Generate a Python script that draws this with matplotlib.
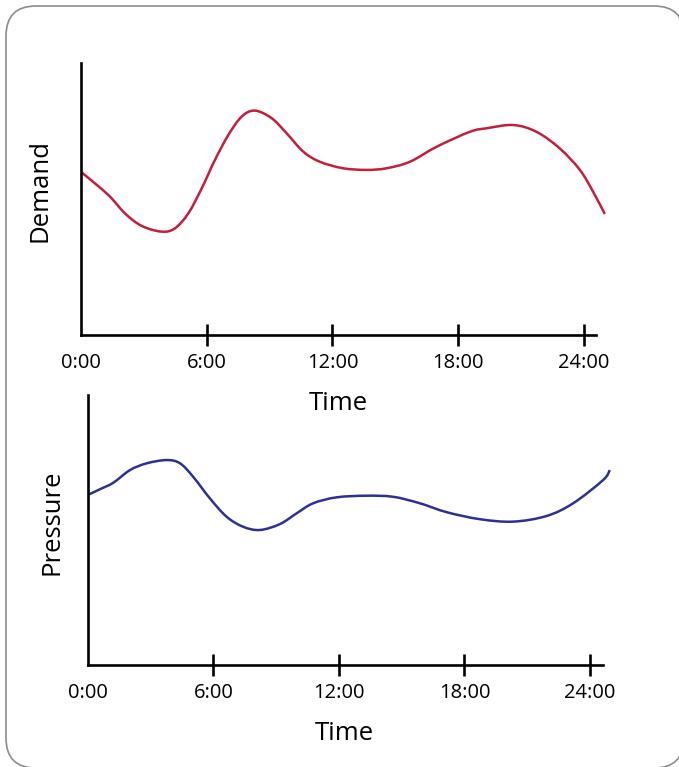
import numpy as np
import matplotlib
matplotlib.use('Agg')
import matplotlib.pyplot as plt
from matplotlib.patches import FancyBboxPatch, PathPatch
from matplotlib.path import Path

plt.rcParams['font.family'] = ['Open Sans', 'DejaVu Sans']

# valores (horas, escala arbitraria 0-100)
demand_hours = [0.0, 1.30, 2.10, 2.90, 3.85, 4.48, 5.12, 5.76, 6.39, 7.03, 7.67, 8.30,
                9.10, 9.81, 10.61, 11.40, 12.51, 13.63, 14.58, 15.70, 16.97, 18.56,
                19.36, 20.63, 21.74, 22.85, 23.81, 24.44, 25.0]
demand = [60.0, 51.5, 44.7, 40.1, 38.0, 39.2, 44.7, 53.9, 64.3, 73.5, 80.3, 82.5,
          79.7, 74.2, 67.4, 63.7, 61.3, 60.7, 61.3, 63.7, 69.2, 74.7,
          76.0, 77.2, 74.7, 68.6, 60.7, 52.7, 44.5]

pressure_hours = [0.0, 0.57, 1.21, 2.01, 2.81, 3.76, 4.40, 5.03, 5.83, 6.63, 7.42, 8.22,
                  9.18, 9.98, 10.77, 11.89, 13.32, 14.59, 15.87, 17.15, 18.74, 20.33,
                  21.93, 23.20, 24.63, 24.95]
pressure = [63.0, 65.1, 67.5, 72.2, 74.7, 75.9, 74.7, 69.7, 61.7, 54.9, 51.2, 50.0,
            52.2, 56.2, 59.9, 62.1, 62.7, 62.3, 59.9, 56.6, 54.0, 53.1,
            55.2, 59.9, 68.5, 72.2]

tick_hours = [0, 6, 12, 18, 24]
tick_labels = ['0:00', '6:00', '12:00', '18:00', '24:00']

fig = plt.figure(figsize=(6.79, 7.67), dpi=100)

# moldura arredondada
bg = fig.add_axes([0, 0, 1, 1], zorder=0)
bg.set_xlim(0, 679)
bg.set_ylim(767, 0)
bg.axis('off')
bg.add_patch(FancyBboxPatch((6, 6), 678, 762, boxstyle='round,pad=0,rounding_size=30',
                            fc='white', ec='#8c8c8c', lw=1.2))


def curva_suave(x, y):
    # caminho bezier passando pelos pontos lidos (catmull-rom)
    p = np.column_stack([x, y])
    pts = np.vstack([p[0], p, p[-1]])
    verts = [p[0]]
    codes = [Path.MOVETO]
    for i in range(1, len(pts) - 2):
        c1 = pts[i] + (pts[i + 1] - pts[i - 1]) / 6
        c2 = pts[i + 1] - (pts[i + 2] - pts[i]) / 6
        verts += [c1, c2, pts[i + 1]]
        codes += [Path.CURVE4] * 3
    return Path(verts, codes)


def painel(rect, x, y, cor, ylabel, ylab_xy, xlab_xy, xend):
    ax = fig.add_axes(rect, zorder=1)
    ax.patch.set_visible(False)
    ax.add_patch(PathPatch(curva_suave(x, y), fc='none', ec=cor, lw=1.8, capstyle='butt'))
    ax.set_xlim(0, 25.2)
    ax.set_ylim(0, 100)
    for s in ['top', 'right']:
        ax.spines[s].set_visible(False)
    for s in ['left', 'bottom']:
        ax.spines[s].set_linewidth(1.9)
    ax.spines['bottom'].set_bounds(0, xend)
    ax.set_yticks([])
    ax.set_xticks(tick_hours)
    ax.set_xticklabels(tick_labels)
    ax.tick_params(axis='x', direction='inout', length=16, width=1.9, labelsize=14.5, pad=5)
    ax.xaxis.get_major_ticks()[0].tick1line.set_visible(False)
    ax.set_ylabel(ylabel, fontsize=18.5)
    ax.yaxis.set_label_coords(*ylab_xy)
    ax.yaxis.label.set_va('center')
    ax.set_xlabel('Time', fontsize=18.5)
    ax.xaxis.set_label_coords(*xlab_xy)
    ax.xaxis.label.set_va('center')
    return ax


painel([81 / 679, 1 - 335 / 767, 528 / 679, 272 / 767], demand_hours, demand, '#c21f3a',
       'Demand', (-0.078, 0.533), (0.487, -0.25), 24.57)
painel([88 / 679, 1 - 665 / 767, 527 / 679, 270 / 767], pressure_hours, pressure, '#2e3192',
       'Pressure', (-0.068, 0.53), (0.486, -0.252), 24.62)

fig.savefig('out.png', dpi=100)
